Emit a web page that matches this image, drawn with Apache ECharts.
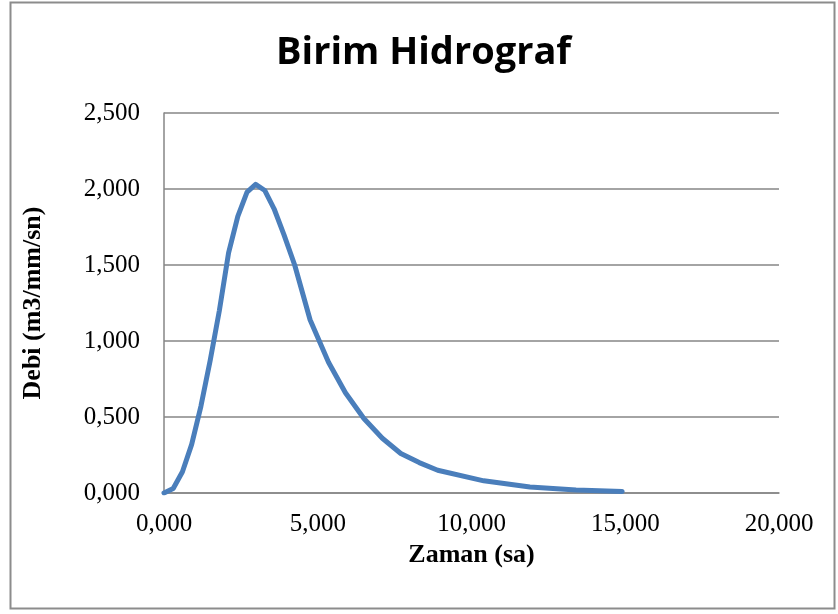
<!DOCTYPE html>
<html>
<head>
<meta charset="utf-8">
<script src="https://cdn.jsdelivr.net/npm/echarts@6/dist/echarts.min.js"></script>
<style>
  html, body { margin: 0; padding: 0; background: #fff; }
  #chart { width: 838px; height: 614px; }
</style>
</head>
<body>
<div id="chart"></div>
<script>
// zaman (sa) and debi (m3/mm/sn)
const zaman = [0, 0.30, 0.60, 0.90, 1.20, 1.50, 1.80, 2.10, 2.40, 2.70, 2.98, 3.28, 3.58, 3.90, 4.25,
               4.75, 5.35, 5.90, 6.50, 7.10, 7.70, 8.30, 8.90, 10.40, 11.90, 13.40, 14.90]
const debi = [0, 0.03, 0.14, 0.32, 0.57, 0.87, 1.20, 1.58, 1.82, 1.98, 2.03, 1.99, 1.87, 1.70, 1.50,
              1.14, 0.86, 0.66, 0.49, 0.36, 0.26, 0.20, 0.15, 0.08, 0.04, 0.02, 0.01]

const title = 'Birim Hidrograf'
const xName = 'Zaman (sa)'
const yName = 'Debi (m3/mm/sn)'

const fmt = v => v.toFixed(3).replace('.', ',')

const chart = echarts.init(document.getElementById('chart'))
chart.setOption({
  backgroundColor: '#fff',
  animation: false,
  title: {
    text: title,
    left: 276,
    top: 34,
    padding: 0,
    textStyle: {fontFamily: 'Open Sans', fontWeight: 'bold', fontSize: 38, color: '#000'}
  },
  graphic: [{
    type: 'rect',
    shape: {x: 10.5, y: 2.5, width: 824, height: 606},
    style: {fill: 'none', stroke: '#8c8c8c', lineWidth: 2}
  }],
  grid: {left: 164, right: 59, top: 113, bottom: 121},
  xAxis: {
    type: 'value',
    min: 0, max: 20, interval: 5,
    name: xName,
    nameLocation: 'middle',
    nameGap: 47,
    nameTextStyle: {fontFamily: 'Liberation Serif', fontWeight: 'bold', fontSize: 26, color: '#000'},
    axisLine: {show: true, lineStyle: {color: '#868686', width: 1.5}},
    axisTick: {show: false},
    splitLine: {show: false},
    axisLabel: {
      formatter: fmt, margin: 19,
      fontFamily: 'Liberation Serif', fontSize: 25, color: '#000'
    }
  },
  yAxis: {
    type: 'value',
    min: 0, max: 2.5, interval: 0.5,
    name: yName,
    nameLocation: 'middle',
    nameGap: 118,
    nameTextStyle: {fontFamily: 'Liberation Serif', fontWeight: 'bold', fontSize: 26, color: '#000'},
    axisLine: {show: true, lineStyle: {color: '#868686', width: 1.5}},
    axisTick: {show: false},
    splitLine: {lineStyle: {color: '#868686', width: 1.5}},
    axisLabel: {
      formatter: fmt, margin: 24,
      fontFamily: 'Liberation Serif', fontSize: 25, color: '#000'
    }
  },
  series: [{
    type: 'line',
    data: zaman.map((t, i) => [t, debi[i]]),
    showSymbol: false,
    lineStyle: {color: '#4a7ebb', width: 5, cap: 'round', join: 'round'},
    z: 3
  }]
})
</script>
</body>
</html>
